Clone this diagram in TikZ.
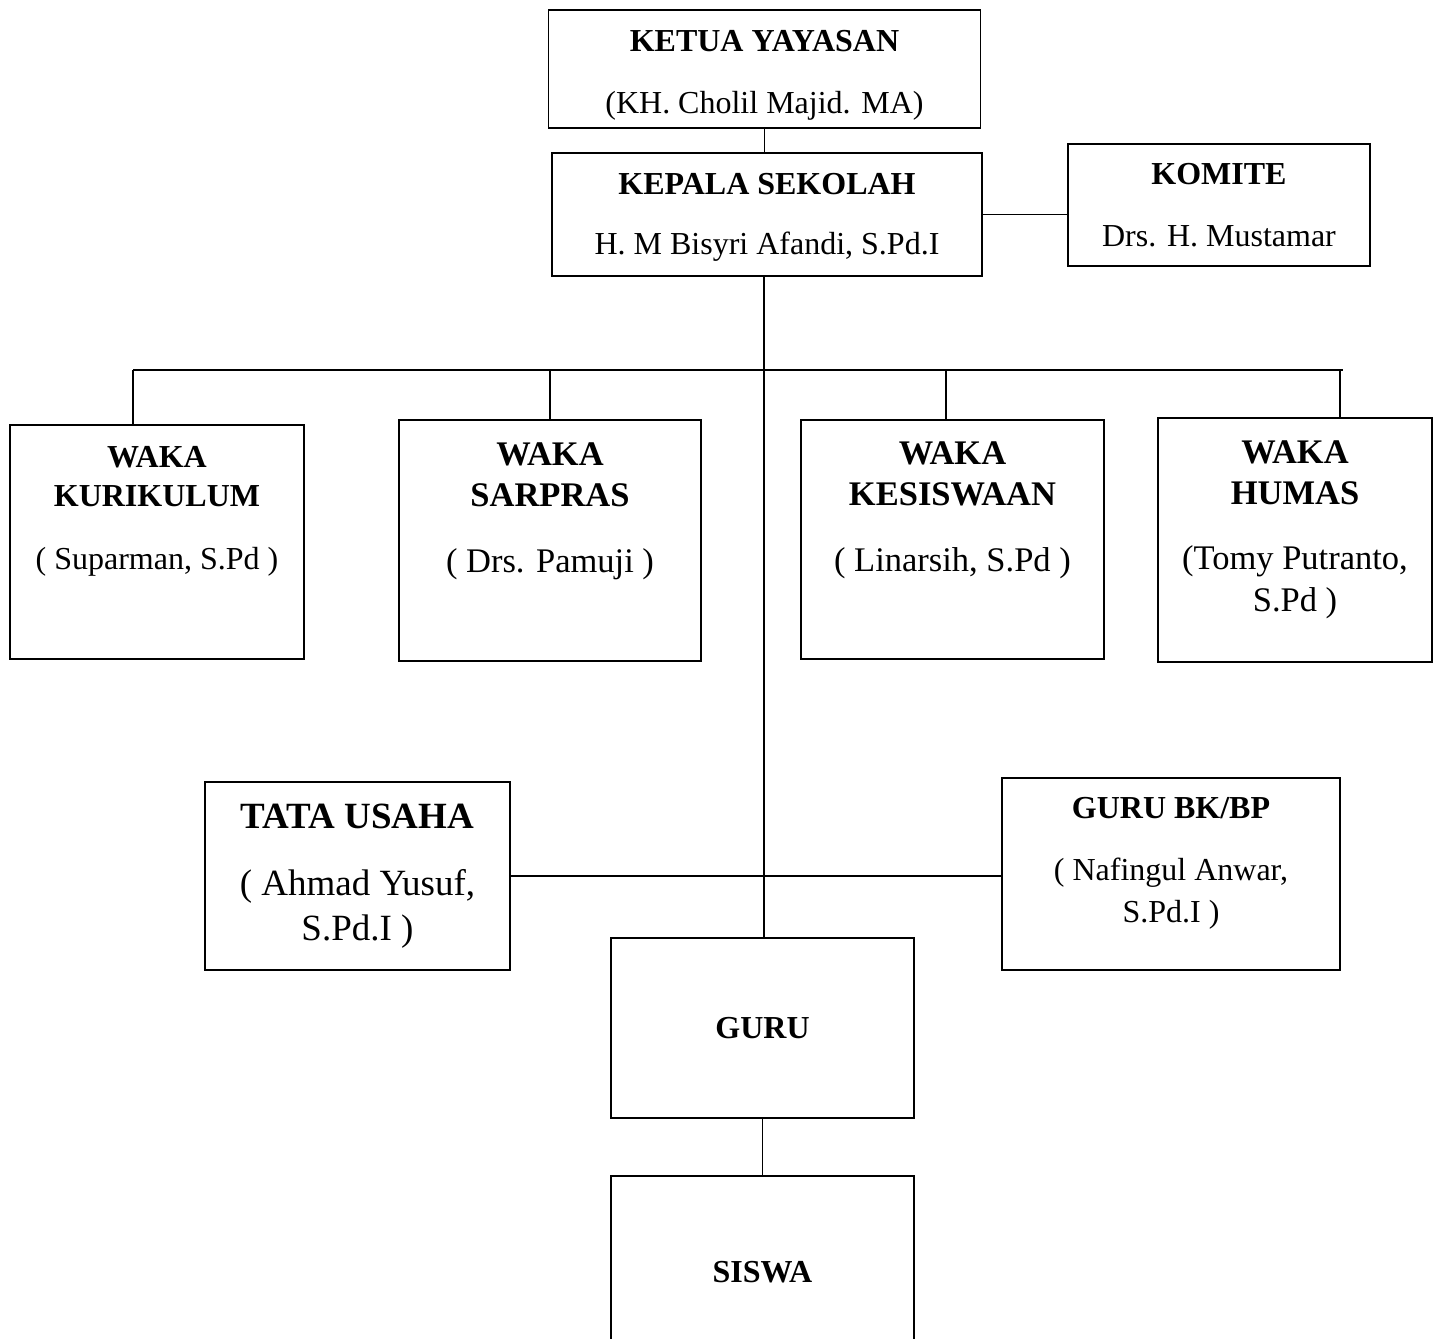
\documentclass[tikz,border=0pt]{standalone}
\usepackage{fontspec}
\setmainfont{Liberation Serif}

\begin{document}
\begin{tikzpicture}[x=1pt,y=-1pt,
   line width=1.5pt,
   box/.style={draw,align=center,inner sep=0pt,font=\fontsize{32}{38.4}\selectfont},
   wakabox/.style={box,font=\fontsize{34.5}{41.4}\selectfont},
   tubox/.style={box,font=\fontsize{37}{44.4}\selectfont}]
\useasboundingbox (0,0) rectangle (1437,1338);
\node[box,minimum width=432pt,minimum height=118pt] (ketua) at (764.5,69)
  {\rule{0pt}{33pt}\textbf{KETUA YAYASAN}\\[23.6pt](KH. Cholil Majid. MA)};
\node[box,minimum width=430pt,minimum height=123pt] (kepala) at (767,214.5)
  {\rule{0pt}{27pt}\textbf{KEPALA SEKOLAH}\\[21.6pt]H. M Bisyri Afandi, S.Pd.I};
\node[box,minimum width=302pt,minimum height=122pt] (komite) at (1219,205)
  {\textbf{KOMITE}\\[23.6pt]Drs. H. Mustamar};
\node[box,minimum width=294pt,minimum height=234pt] (kurikulum) at (157,542)
  {\textbf{WAKA}\\\textbf{KURIKULUM}\\[24.6pt]( Suparman, S.Pd )\\[30pt]~};
\node[wakabox,minimum width=302pt,minimum height=241pt] (sarpras) at (550,540.5)
  {\textbf{WAKA}\\\textbf{SARPRAS}\\[24.6pt]( Drs. Pamuji )\\[24.6pt]~};
\node[wakabox,minimum width=303pt,minimum height=239pt] (kesiswaan) at (952.5,539.5)
  {\textbf{WAKA}\\\textbf{KESISWAAN}\\[24.6pt]( Linarsih, S.Pd )\\[24.6pt]~};
\node[wakabox,minimum width=274pt,minimum height=244pt] (humas) at (1295,540)
  {\textbf{WAKA}\\\textbf{HUMAS}\\[23.6pt](Tomy Putranto,\\S.Pd )\\[-13.4pt]~};
\node[tubox,minimum width=305pt,minimum height=188pt] (tatausaha) at (357.5,876)
  {\textbf{TATA USAHA}\\[22.6pt]( Ahmad Yusuf,\\S.Pd.I )};
\node[box,minimum width=338pt,minimum height=192pt] (gurubk) at (1171,874)
  {\textbf{GURU BK/BP}\\[23.6pt]( Nafingul Anwar,\\[3.6pt]S.Pd.I )\\[-10pt]~};
\node[box,minimum width=303pt,minimum height=180pt] (guru) at (762.5,1028) {\textbf{GURU}};
\node[box,minimum width=303pt,minimum height=192pt] (siswa) at (762.5,1272) {\textbf{SISWA}};

\coordinate (trunk) at (764,370);
\coordinate (busL) at (133,370);
\coordinate (busR) at (1343,370);
\coordinate (drop2) at (550,370);
\coordinate (drop3) at (946,370);
\coordinate (drop4) at (1340,370);

\draw (ketua.south) -- (ketua.south |- kepala.north);
\draw (kepala.east) -- (kepala.east -| komite.west);
\draw (trunk |- kepala.south) -- (trunk |- guru.north);
\draw (busL) -- (busR);
\draw (busL) -- (busL |- kurikulum.north);
\draw (drop2) -- (drop2 |- sarpras.north);
\draw (drop3) -- (drop3 |- kesiswaan.north);
\draw (drop4) -- (drop4 |- humas.north);
\draw (tatausaha.east) -- (tatausaha.east -| gurubk.west);
\draw (guru.south) -- (siswa.north);
\end{tikzpicture}
\end{document}
